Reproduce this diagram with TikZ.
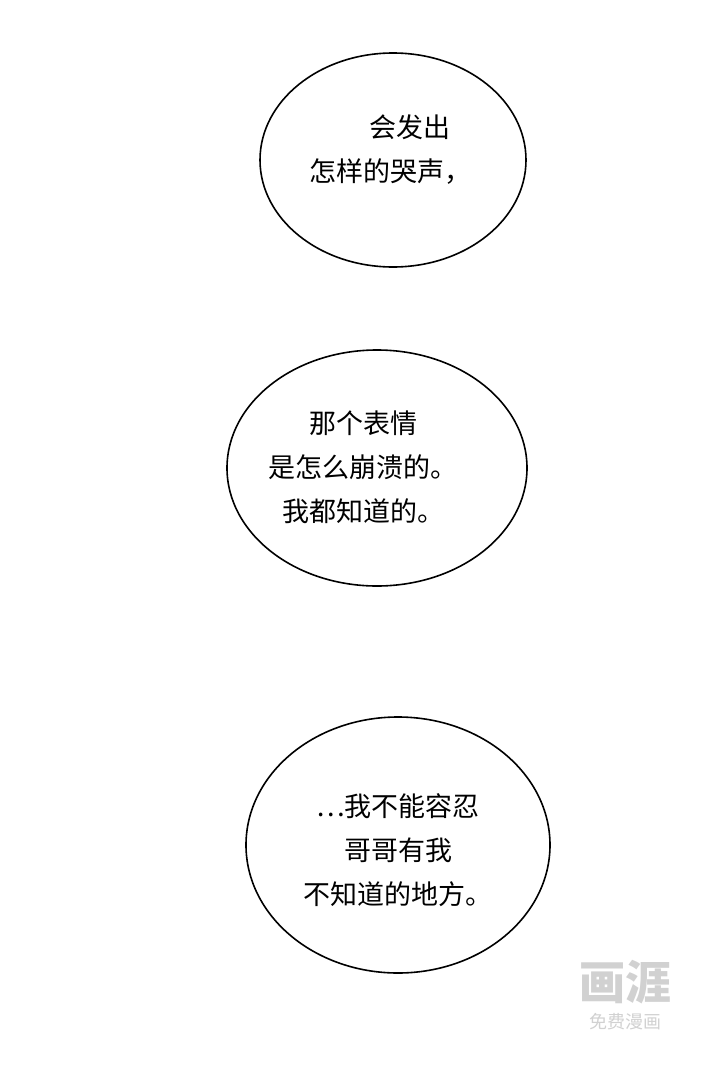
\documentclass[tikz,border=0pt]{standalone}
\usepackage{fontspec}
\usetikzlibrary{positioning}
\newfontfamily\cjk{Noto Sans CJK SC}
\tikzset{
bubble/.style={draw, line width=1.6pt},
speech/.style={font=\cjk\fontsize{27}{44}\selectfont, align=center},
wmark/.style={text=black!18}
}
\begin{document}
\begin{tikzpicture}[x=1pt, y=-1pt]
\useasboundingbox[fill=white] (0,0) rectangle (720,1068);
% bubbles
\draw[bubble] (393,160) ellipse [x radius=133, y radius=107];
\draw[bubble] (377,468) ellipse [x radius=150, y radius=118];
\draw[bubble] (398,845) ellipse [x radius=152, y radius=128];
% texts
\node[speech] (t1) at (390,150) {\hspace*{1.5em}会发出\\怎样的哭声，};
\node[speech] (t2) at (363,467) {那个表情\\是怎么崩溃的。\\我都知道的。};
\node[speech] (t3) at (398,850) {…我不能容忍\\哥哥有我\\不知道的地方。};
% watermark
\node[wmark, font=\cjk\bfseries\fontsize{46}{46}\selectfont] (wm) at (625,982) {画涯};
\node[wmark, font=\cjk\fontsize{18}{18}\selectfont, below=2pt of wm] (wm2) {免费漫画};
\end{tikzpicture}
\end{document}
